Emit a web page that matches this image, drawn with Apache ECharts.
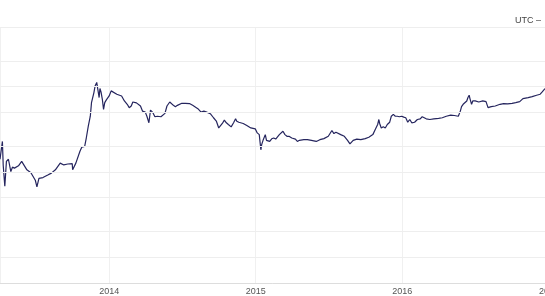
<!DOCTYPE html>
<html>
<head>
<meta charset="utf-8">
<script src="https://cdn.jsdelivr.net/npm/echarts@6/dist/echarts.min.js"></script>
<style>
html,body{margin:0;padding:0;background:#fff;}
#chart{width:545px;height:296px;}
</style>
</head>
<body>
<div id="chart"></div>
<script>
const dates = [
'2013-04-04','2013-04-10','2013-04-12','2013-04-16','2013-04-20','2013-04-25','2013-05-01','2013-05-05','2013-05-10','2013-05-20',
'2013-05-28','2013-06-01','2013-06-10','2013-06-20','2013-07-01','2013-07-05','2013-07-10','2013-07-20','2013-08-01','2013-08-10',
'2013-08-20','2013-09-01','2013-09-10','2013-09-20','2013-10-01','2013-10-02','2013-10-10','2013-10-20','2013-10-25','2013-11-01',
'2013-11-05','2013-11-10','2013-11-15','2013-11-18','2013-11-20','2013-11-24','2013-11-27','2013-12-01','2013-12-04','2013-12-07',
'2013-12-09','2013-12-12','2013-12-15','2013-12-18','2013-12-21','2013-12-25','2014-01-01','2014-01-06','2014-01-10','2014-01-20',
'2014-02-01','2014-02-08','2014-02-15','2014-02-20','2014-02-25','2014-03-01','2014-03-10','2014-03-20','2014-03-25','2014-04-01',
'2014-04-05','2014-04-10','2014-04-14','2014-04-20','2014-04-25','2014-05-01','2014-05-10','2014-05-20','2014-05-25','2014-06-01',
'2014-06-05','2014-06-10','2014-06-15','2014-06-20','2014-07-01','2014-07-10','2014-07-20','2014-07-28','2014-08-01','2014-08-10',
'2014-08-18','2014-08-25','2014-09-01','2014-09-10','2014-09-18','2014-09-25','2014-10-01','2014-10-05','2014-10-10','2014-10-15',
'2014-10-20','2014-10-25','2014-11-01','2014-11-07','2014-11-12','2014-11-15','2014-11-20','2014-12-01','2014-12-10','2014-12-20',
'2014-12-31','2015-01-05','2015-01-10','2015-01-14','2015-01-16','2015-01-20','2015-01-25','2015-01-28','2015-02-01','2015-02-05',
'2015-02-10','2015-02-15','2015-02-20','2015-03-01','2015-03-05','2015-03-10','2015-03-15','2015-03-20','2015-03-25','2015-04-01',
'2015-04-05','2015-04-10','2015-04-15','2015-04-20','2015-05-01','2015-05-10','2015-05-20','2015-06-01','2015-06-10','2015-06-20',
'2015-07-01','2015-07-05','2015-07-10','2015-07-15','2015-07-20','2015-08-01','2015-08-10','2015-08-18','2015-08-24','2015-09-01',
'2015-09-10','2015-09-20','2015-10-01','2015-10-10','2015-10-20','2015-10-26','2015-11-01','2015-11-04','2015-11-06','2015-11-10',
'2015-11-15','2015-11-20','2015-11-25','2015-12-01','2015-12-05','2015-12-10','2015-12-15','2015-12-20','2015-12-25','2015-12-31',
'2016-01-05','2016-01-10','2016-01-15','2016-01-20','2016-01-25','2016-02-01','2016-02-08','2016-02-15','2016-02-20','2016-02-25',
'2016-03-01','2016-03-10','2016-03-20','2016-04-01','2016-04-10','2016-04-20','2016-05-01','2016-05-10','2016-05-20','2016-05-25',
'2016-05-28','2016-06-01','2016-06-05','2016-06-10','2016-06-13','2016-06-16','2016-06-18','2016-06-22','2016-06-25','2016-07-01',
'2016-07-10','2016-07-20','2016-07-28','2016-08-02','2016-08-05','2016-08-10','2016-08-20','2016-09-01','2016-09-05','2016-09-10',
'2016-09-20','2016-10-01','2016-10-10','2016-10-20','2016-10-28','2016-11-01','2016-11-10','2016-11-20','2016-12-01','2016-12-10',
'2016-12-15','2016-12-19','2016-12-22'
];
const prices = [
141,228,120,68,133,141,101,114,111,118,
133,127,106,98,80,67,84,86,92,97,
106,127,121,124,125,106,127,174,196,199,
250,344,450,650,680,853,1020,1120,1070,745,
950,853,711,542,650,700,778,892,853,815,
778,680,621,567,593,661,645,593,517,503,
450,377,530,495,444,450,444,486,593,661,
650,604,583,604,638,638,633,604,583,552,
503,517,503,482,432,395,328,344,370,405,
377,360,338,377,420,393,383,370,350,328,
320,287,274,182,209,239,274,235,228,228,
245,250,243,274,287,300,274,262,262,250,
262,243,228,235,239,239,235,228,239,246,
262,274,306,282,292,274,262,235,214,235,
243,239,246,255,274,314,360,412,370,328,
338,328,360,383,450,473,450,450,444,450,
439,432,383,412,377,383,412,420,444,432,
420,412,420,424,432,450,463,459,450,517,
583,621,650,680,745,793,725,621,680,680,
661,680,668,567,593,583,593,621,650,633,
627,638,650,668,725,725,745,765,793,815,
868,916,950
];
const gridValues = [10, 20, 50, 100, 200, 500, 1000, 2000, 5000];
const cornerLabel = 'UTC –';

const chart = echarts.init(document.getElementById('chart'), null, {renderer: 'canvas'});
const DAY = 86400000;
chart.setOption({
  animation: false,
  grid: {left: 0, top: 27, right: -55, height: 256, containLabel: false, outerBoundsMode: 'none'},
  graphic: [{
    type: 'text', right: 4, top: 16,
    style: {text: cornerLabel, fontSize: 9, fill: '#444', fontFamily: 'Liberation Sans, Arial, sans-serif'}
  }],
  xAxis: {
    type: 'time',
    min: '2013-04-04',
    max: '2017-05-08',
    minInterval: 365 * DAY,
    maxInterval: 366 * DAY,
    axisLine: {show: true, lineStyle: {color: '#dddddd', width: 1}},
    axisTick: {show: false},
    splitLine: {show: true, lineStyle: {color: '#f0f0f0', width: 1}},
    axisLabel: {
      fontSize: 9, color: '#555', margin: 4,
      fontFamily: 'Liberation Sans, Arial, sans-serif',
      formatter: function (v) { return String(new Date(v).getFullYear()); }
    }
  },
  yAxis: {
    type: 'log', logBase: 10, min: 5, max: 5000,
    axisLabel: {show: false}, axisLine: {show: false}, axisTick: {show: false},
    splitLine: {show: false}
  },
  series: [{
    type: 'line',
    data: dates.map((d, i) => [d, prices[i]]),
    showSymbol: false,
    symbol: 'none',
    lineStyle: {color: '#25255e', width: 1.2},
    markLine: {
      silent: true, symbol: 'none', animation: false,
      label: {show: false},
      lineStyle: {color: '#eeeeee', type: 'solid', width: 1},
      data: gridValues.map(v => ({yAxis: v}))
    },
    z: 3
  }]
});
</script>
</body>
</html>
